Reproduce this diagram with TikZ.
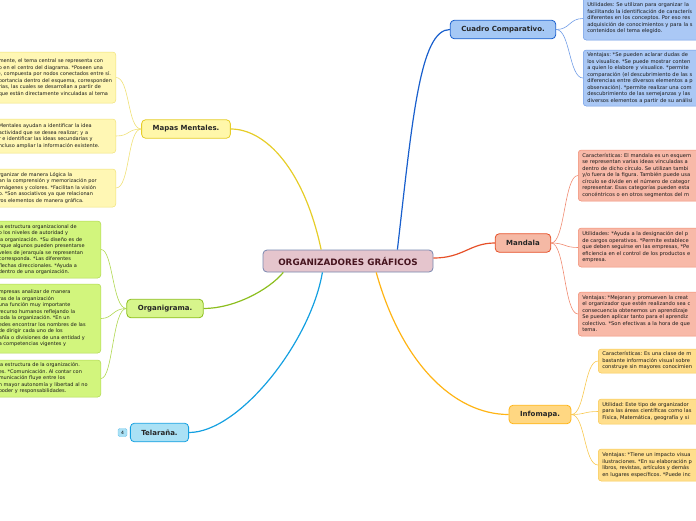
\documentclass[tikz,border=0pt]{standalone}
\usepackage{fontspec}
\setmainfont{DejaVu Sans}
\usepackage{tikz}
\frenchspacing
\definecolor{cenF}{RGB}{229,197,205}\definecolor{cenB}{RGB}{120,135,175}\definecolor{cenT}{RGB}{70,20,30}
\definecolor{ylwD}{RGB}{230,205,40}\definecolor{ylwF}{RGB}{255,247,170}\definecolor{ylwL}{RGB}{255,247,180}\definecolor{ylwE}{RGB}{240,225,120}
\definecolor{grnD}{RGB}{140,190,30}\definecolor{grnF}{RGB}{215,245,140}\definecolor{grnL}{RGB}{210,245,125}\definecolor{grnE}{RGB}{175,215,80}
\definecolor{cynD}{RGB}{20,160,225}\definecolor{cynF}{RGB}{170,225,245}
\definecolor{bluD}{RGB}{25,95,205}\definecolor{bluF}{RGB}{165,200,245}\definecolor{bluL}{RGB}{170,200,245}\definecolor{bluE}{RGB}{110,155,230}
\definecolor{redD}{RGB}{230,80,40}\definecolor{redF}{RGB}{245,185,165}\definecolor{redL}{RGB}{248,185,168}\definecolor{redE}{RGB}{240,140,115}
\definecolor{orgD}{RGB}{255,180,20}\definecolor{orgF}{RGB}{255,215,130}\definecolor{orgL}{RGB}{255,222,140}\definecolor{orgE}{RGB}{248,200,80}

\begin{document}
\begin{tikzpicture}[x=1pt,y=-1pt,
 topic/.style={draw,rounded corners=4pt,line width=0.8pt,inner xsep=11pt,minimum height=18.5pt,font=\fontsize{7}{8}\selectfont\bfseries,text=black!85},
 leaf/.style={draw,rounded corners=3pt,line width=0.5pt,inner xsep=4pt,inner ysep=2pt,align=left,font=\fontsize{5.15}{6.5}\selectfont,text=black!90},
 leafL/.style={leaf,font=\fontsize{5}{6.5}\selectfont,anchor=east},
 twig/.style={line width=0.6pt}, limb/.style={line width=1.2pt}]
\useasboundingbox (0,0) rectangle (696,520);
\node[topic,fill=cenF,draw=cenB,minimum width=170pt,minimum height=22pt,font=\fontsize{8.8}{10}\selectfont\bfseries,text=cenT] (cen) at (348,261) {ORGANIZADORES GRÁFICOS};
% main topics
\node[topic,fill=ylwF,draw=ylwD] (mm) at (186,129) {Mapas Mentales.};
\node[topic,fill=grnF,draw=grnD] (org) at (165,308.5) {Organigrama.};
\node[topic,fill=cynF,draw=cynD] (tel) at (159.5,432.5) {Telaraña.};
\node[topic,fill=bluF,draw=bluD] (cc) at (503,29.5) {Cuadro Comparativo.};
\node[topic,fill=redF,draw=redD] (man) at (523,243) {Mandala};
\node[topic,fill=orgF,draw=orgD] (inf) at (540,414.5) {Infomapa.};
\node[draw=cynD!60,fill=cynF,rounded corners=1.5pt,inner sep=0pt,minimum width=9pt,minimum height=8pt,font=\fontsize{4.5}{5}\selectfont] (cnt) at (122.5,432.5) {4};
\draw[ylwD,limb] (cen.157) .. controls +(-17,-80) and +(35,0) .. (mm.east);
\draw[grnD,limb] (cen.190) .. controls +(-15,18) and +(30,0) .. (org.east);
\draw[cynD,limb] (cen.204) .. controls +(-12,70) and +(50,0) .. (tel.east);
\draw[bluD,limb] (cen.13) .. controls +(15,-130) and +(-30,0) .. (cc.west);
\draw[redD,limb] (cen.2.7) .. controls +(30,0) and +(-25,0) .. (man.west);
\draw[orgD,limb] (cen.338) .. controls +(25,90) and +(-55,0) .. (inf.west);
% left leaves
\foreach \n/\y/\h/\t in {
 mmA/77.5/51/{mente, el tema central se representa con\\o en el centro del diagrama. *Poseen una\\), compuesta por nodos conectados entre sí.\\portancia dentro del esquema, corresponden\\rias, las cuales se desarrollan a partir de\\que están directamente vinculadas al tema},
 mmB/136/34/{Mentales ayudan a identificar la idea\\actividad que se desea realizar; y a\\r e identificar las ideas secundarias y\\ncluso ampliar la información existente.},
 mmC/188/38/{rganizar de manera Lógica la\\an la comprensión y memorización por\\ imágenes y colores. *Facilitan la visión\\o. *Son asociativos ya que relacionan\\ros elementos de manera gráfica.}}
 {\node[leafL,fill=ylwL,draw=ylwE,minimum height=\h,text width=113pt] (\n) at (116,\y) {\begin{tabular}{@{}l@{}}\t\end{tabular}};
  \draw[ylwE,twig] (mm.west) .. controls +(-14,0) and +(14,0) .. (\n.east);}
\foreach \n/\y/\h/\t in {
 orgA/249.5/57/{la estructura organizacional de\\o los niveles de autoridad y\\la organización. *Su diseño es de\\nque algunos pueden presentarse\\veles de jerarquía se representan\\ corresponda. *Las diferentes\\flechas direccionales. *Ayuda a\\ dentro de una organización.},
 orgB/318.5/69/{mpresas analizar de manera\\ras de la organización\\ una función muy importante\\ recurso humanos reflejando la\\toda la organización. *En un\\edes encontrar los nombres de las\\ de dirigir cada uno de los\\añía o divisiones de una entidad y\\a competencias vigentes y},
 orgC/378.5/37/{ la estructura de la organización.\\es. *Comunicación. Al contar con\\municación fluye entre los\\n mayor autonomía y libertad al no\\poder y responsabilidades.}}
 {\node[leafL,fill=grnL,draw=grnE,minimum height=\h,text width=98pt] (\n) at (101,\y) {\begin{tabular}{@{}l@{}}\t\end{tabular}};
  \draw[grnE,twig] (org.west) .. controls +(-14,0) and +(12,0) .. (\n.east);}
% right leaves
\foreach \n/\y/\h/\t in {
 ccA/18.5/43/{Utilidades: Se utilizan para organizar la\\facilitando la identificación de caracterís\\diferentes en los conceptos. Por eso res\\adquisición de conocimientos y para la s\\contenidos del tema elegido.},
 ccB/78/56/{Ventajas: *Se pueden aclarar dudas de\\los visualice. *Se puede mostrar conten\\a quien lo elabore y visualice. *permite\\comparación (el descubrimiento de las s\\diferencias entre diversos elementos a p\\observación). *permite realizar una com\\descubrimiento de las semejanzas y las\\diversos elementos a partir de su análisi}}
 {\node[leaf,fill=bluL,draw=bluE,minimum height=\h,text width=150pt,anchor=west] (\n) at (583,\y) {\begin{tabular}{@{}l@{}}\t\end{tabular}};
  \draw[bluE,twig] (cc.east) .. controls +(14,0) and +(-14,0) .. (\n.west);}
\foreach \n/\y/\h/\t in {
 manA/175.5/51/{Características: El mandala es un esquem\\se representan varias ideas vinculadas a\\dentro de dicho círculo. Se utilizan tambi\\y/o fuera de la figura. También puede usa\\círculo se divide en el número de categor\\representar. Esas categorías pueden esta\\concéntricos o en otros segmentos del m},
 manB/247.5/39/{Utilidades: *Ayuda a la designación del p\\de cargos operativos. *Permite establece\\que deben seguirse en las empresas, *Pe\\eficiencia en el control de los productos e\\empresa.},
 manC/314/44/{Ventajas: *Mejoran y promueven la creat\\el organizador que estén realizando sea c\\consecuencia obtenemos un aprendizaje\\*Se pueden aplicar tanto para el aprendiz\\colectivo. *Son efectivas a la hora de que\\tema.}}
 {\node[leaf,fill=redL,draw=redE,minimum height=\h,text width=150pt,anchor=west] (\n) at (578,\y) {\begin{tabular}{@{}l@{}}\t\end{tabular}};
  \draw[redE,twig] (man.east) .. controls +(14,0) and +(-14,0) .. (\n.west);}
\foreach \n/\y/\h/\t in {
 infA/361/24/{Características: Es una clase de m\\bastante información visual sobre\\construye sin mayores conocimien},
 infB/411.5/25/{Utilidad: Este tipo de organizador\\para las áreas científicas como las\\Física, Matemática, geografía y si},
 infC/465/32/{Ventajas: *Tiene un impacto visua\\ilustraciones. *En su elaboración p\\libros, revistas, artículos y demás\\en lugares específicos. *Puede inc}}
 {\node[leaf,fill=orgL,draw=orgE,minimum height=\h,text width=150pt,anchor=west] (\n) at (598,\y) {\begin{tabular}{@{}l@{}}\t\end{tabular}};
  \draw[orgE,twig] (inf.east) .. controls +(14,0) and +(-14,0) .. (\n.west);}
\end{tikzpicture}
\end{document}
